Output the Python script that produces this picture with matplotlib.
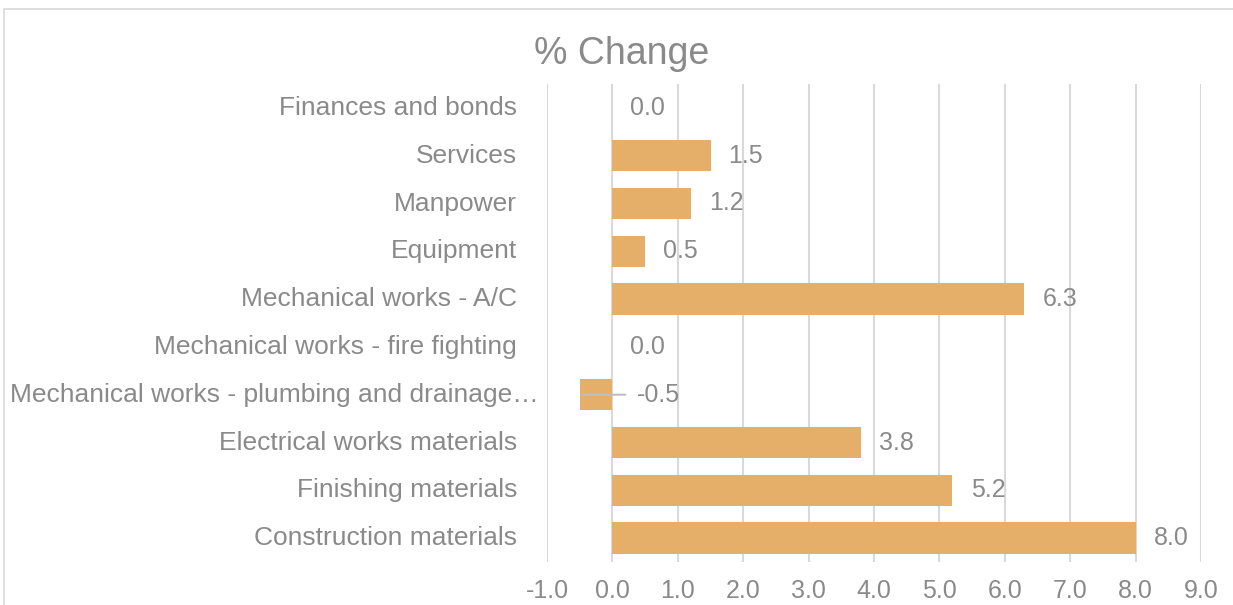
import matplotlib.pyplot as plt
from matplotlib.patches import Rectangle
from matplotlib.transforms import blended_transform_factory

plt.rcParams['font.family'] = ['Liberation Sans', 'DejaVu Sans']

# data, top to bottom as in the chart
categories = ['Finances and bonds', 'Services', 'Manpower', 'Equipment',
              'Mechanical works - A/C', 'Mechanical works - fire fighting',
              'Mechanical works - plumbing and drainage\u2026',
              'Electrical works materials', 'Finishing materials',
              'Construction materials']
change = [0.0, 1.5, 1.2, 0.5, 6.3, 0.0, -0.5, 3.8, 5.2, 8.0]
ticks = [-1, 0, 1, 2, 3, 4, 5, 6, 7, 8, 9]

bar_col = '#E5AF69'
txt_col = '#8A8A8A'
grid_col = '#D9D9D9'

W, H = 1233, 605
fig = plt.figure(figsize=(W / 100, H / 100), dpi=100)
fig.patches.append(Rectangle((4 / W, -0.2), 1.2, 1.2 - 9 / H, transform=fig.transFigure,
                             fill=False, edgecolor='#D9D9D9', lw=1.2))

ax = fig.add_axes([547 / W, 1 - 562 / H, (1201 - 547) / W, (562 - 84) / H])
y = list(range(len(categories)))
ax.barh(y, change, height=0.66, color=bar_col, lw=0, zorder=2)
ax.set_xlim(-1, 9)
ax.set_ylim(len(categories) - 0.5, -0.5)
ax.set_xticks(ticks)
ax.set_xticklabels(['%.1f' % t for t in ticks])
ax.set_yticks([])
ax.tick_params(axis='x', length=0, pad=12, labelsize=18, labelcolor=txt_col)
ax.grid(axis='x', color=grid_col, lw=1.5, zorder=0)
for s in ax.spines.values():
    s.set_visible(False)

# value labels
for i, v in enumerate(change):
    if v < 0:
        ax.annotate('%.1f' % v, xy=(v + 0.04, i), xytext=(0.37, i), textcoords='data',
                    ha='left', va='center', fontsize=18, color=txt_col,
                    arrowprops=dict(arrowstyle='-', color='#BFBFBF', lw=1.5,
                                    shrinkA=6, shrinkB=0))
    else:
        ax.annotate('%.1f' % v, xy=(v, i), xytext=(13, 0), textcoords='offset points',
                    ha='left', va='center', fontsize=18, color=txt_col)

# category labels
tr = blended_transform_factory(fig.transFigure, ax.transData)
for i, c in enumerate(categories):
    if c.endswith('\u2026'):
        ax.text(10 / W, i, c, transform=tr, ha='left', va='center',
                fontsize=19, color=txt_col)
    else:
        ax.text(517 / W, i, c, transform=tr, ha='right', va='center',
                fontsize=19, color=txt_col)

fig.text(622 / W, 1 - 54 / H, '% Change', ha='center', va='center',
         fontsize=27, color=txt_col)

fig.savefig('out.png', dpi=100)
